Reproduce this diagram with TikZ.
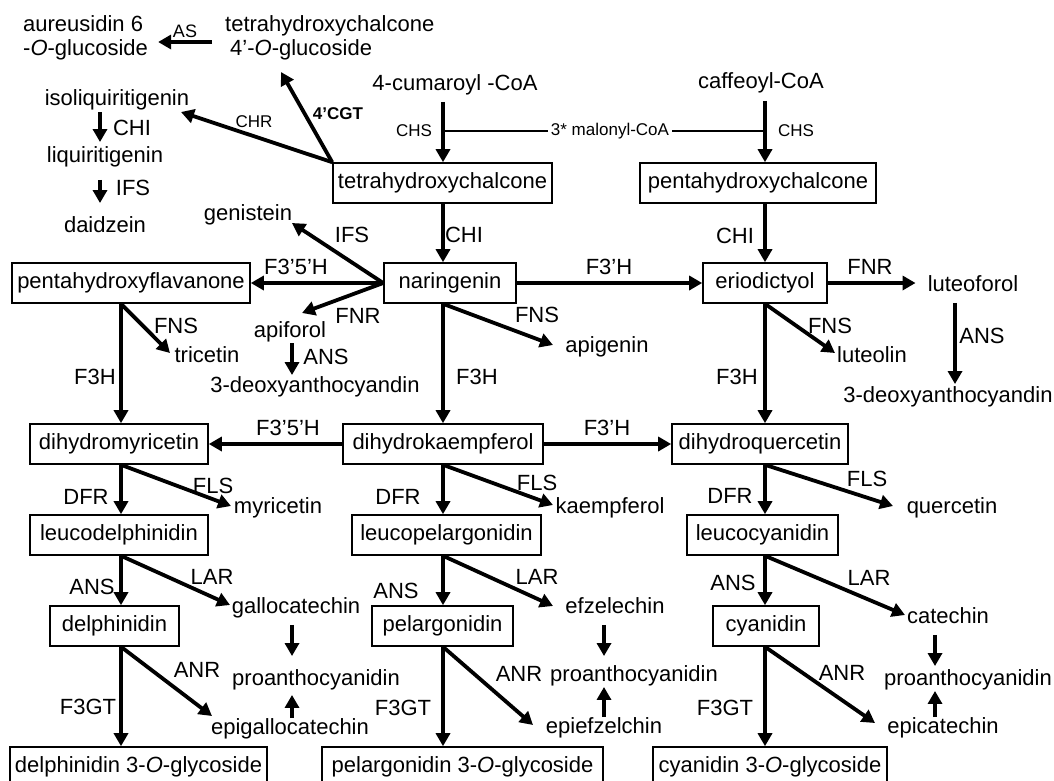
\documentclass[tikz,border=0pt]{standalone}
\usepackage{fontspec}
\setmainfont{Liberation Sans}
\usetikzlibrary{arrows.meta}
\newcommand\fbig{\fontsize{22}{24}\selectfont}
\newcommand\fsml{\fontsize{17}{20}\selectfont}
\tikzset{
  box/.style={draw, line width=1.6pt, minimum height=40pt, inner sep=0pt, font=\fbig},
  txt/.style={inner sep=0pt, font=\fbig, text height=15pt, text depth=4.5pt},
  enz/.style={inner sep=0pt, font=\fbig},
  sml/.style={inner sep=0pt, font=\fsml},
  arr/.style={line width=3.8pt, -{Triangle[length=13pt,width=14pt]}},
  malline/.style={line width=1.3pt},
}
\begin{document}
\begin{tikzpicture}[x=1pt,y=-1pt]
\useasboundingbox (0,0) rectangle (1054,780);
\clip (0,0) rectangle (1054,780);
% columns
\coordinate (cL) at (121,0);
\coordinate (cM) at (443,0);
\coordinate (cR) at (765,0);
\coordinate (cTL) at (100,0);
\coordinate (cA) at (292,0);
\coordinate (cLu) at (955,0);
\coordinate (cP1) at (292,0);
\coordinate (cP2) at (604,0);
\coordinate (cP3) at (935,0);
% boxes
\node[box, minimum width=219pt] (thc) at (442.5,183) {tetrahydroxychalcone};
\node[box, minimum width=236pt] (phc) at (758,183) {pentahydroxychalcone};
\node[box, minimum width=132pt] (nar) at (450,283) {naringenin};
\node[box, minimum width=238pt] (pfl) at (131,283) {pentahydroxyflavanone};
\node[box, minimum width=124pt] (eri) at (765,283) {eriodictyol};
\node[box, minimum width=178pt] (dmy) at (119,444) {dihydromyricetin};
\node[box, minimum width=200pt] (dhk) at (443,444) {dihydrokaempferol};
\node[box, minimum width=176pt] (dhq) at (760,444) {dihydroquercetin};
\node[box, minimum width=178pt] (lde) at (119,535) {leucodelphinidin};
\node[box, minimum width=189pt] (lpe) at (446.5,535) {leucopelargonidin};
\node[box, minimum width=151pt] (lcy) at (762.5,535) {leucocyanidin};
\node[box, minimum width=129pt] (del) at (114.5,626) {delphinidin};
\node[box, minimum width=141pt] (pel) at (442.5,626) {pelargonidin};
\node[box, minimum width=106pt] (cya) at (766,626) {cyanidin};
\node[box, minimum width=257pt] (d3g) at (138.5,767) {delphinidin 3-\textit{O}-glycoside};
\node[box, minimum width=281pt] (p3g) at (462.5,767) {pelargonidin 3-\textit{O}-glycoside};
\node[box, minimum width=234pt] (c3g) at (770,767) {cyanidin 3-\textit{O}-glycoside};
% compound texts
\node[enz, align=left, anchor=west] (aur) at (23,38) {aureusidin 6\\-\textit{O}-glucoside};
\node[enz, align=left, anchor=west] (tgl) at (225,38) {tetrahydroxychalcone\\\hspace*{5pt}4’-\textit{O}-glucoside};
\node[txt] (isl) at (117,100) {isoliquiritigenin};
\node[txt] (liq) at (105,157) {liquiritigenin};
\node[txt] (dai) at (105,227) {daidzein};
\node[txt] (gen) at (248,215) {genistein};
\node[txt] (cum) at (455,85) {4-cumaroyl -CoA};
\node[txt] (caf) at (761,83) {caffeoyl-CoA};
\node[sml, inner xsep=3pt] (mal) at (610,131) {3* malonyl-CoA};
\node[txt] (api) at (290,332) {apiforol};
\node[txt] (d3a) at (315,387) {3-deoxyanthocyandin};
\node[txt] (apg) at (607,347) {apigenin};
\node[txt] (tri) at (207,357) {tricetin};
\node[txt] (lut) at (973,286) {luteoforol};
\node[txt] (lue) at (872,357) {luteolin};
\node[txt] (d3b) at (948,397) {3-deoxyanthocyandin};
\node[txt] (myr) at (278,508) {myricetin};
\node[txt] (kae) at (610,508) {kaempferol};
\node[txt] (que) at (952,508) {quercetin};
\node[txt] (gal) at (296,608) {gallocatechin};
\node[txt] (efz) at (615,608) {efzelechin};
\node[txt] (cat) at (948,618) {catechin};
\node[txt] (pro1) at (316,680) {proanthocyanidin};
\node[txt] (pro2) at (634,676) {proanthocyanidin};
\node[txt] (pro3) at (968,680) {proanthocyanidin};
\node[txt] (epg) at (290,729) {epigallocatechin};
\node[txt] (epf) at (604,728) {epiefzelchin};
\node[txt] (epc) at (943,728) {epicatechin};
% enzyme labels
\node[sml, font=\fontsize{18}{20}\selectfont] (lAS) at (185,31) {AS};
\node[sml] (lCHR) at (254,122) {CHR};
\node[sml, font=\fsml\bfseries] (lCGT) at (338,114) {4’CGT};
\node[sml] (lCHS1) at (414,131) {CHS};
\node[sml] (lCHS2) at (796,131) {CHS};
\node[enz] (lCHI0) at (132,128) {CHI};
\node[enz] (lIFS0) at (133,188) {IFS};
\node[enz] (lCHI1) at (464,235) {CHI};
\node[enz] (lCHI2) at (735,236) {CHI};
\node[enz] (lIFS) at (352,235) {IFS};
\node[enz] (lF35a) at (296,267) {F3’5’H};
\node[enz] (lFNR1) at (358,316) {FNR};
\node[enz] (lF3a) at (609,267) {F3’H};
\node[enz] (lFNS1) at (537,315) {FNS};
\node[enz] (lFNS0) at (176,326) {FNS};
\node[enz] (lF3H0) at (95,377) {F3H};
\node[enz] (lANSa) at (326,357) {ANS};
\node[enz] (lF3H1) at (477,377) {F3H};
\node[enz] (lFNR2) at (870,267) {FNR};
\node[enz] (lANSb) at (982,336) {ANS};
\node[enz] (lFNS2) at (830,326) {FNS};
\node[enz] (lF3H2) at (737,377) {F3H};
\node[enz] (lF35b) at (288,428) {F3’5’H};
\node[enz] (lF3b) at (607,428) {F3’H};
\node[enz] (lDFR0) at (86,497) {DFR};
\node[enz] (lFLS0) at (213,486) {FLS};
\node[enz] (lDFR1) at (398,497) {DFR};
\node[enz] (lFLS1) at (537,483) {FLS};
\node[enz] (lDFR2) at (730,496) {DFR};
\node[enz] (lFLS2) at (867,479) {FLS};
\node[enz] (lANS0) at (92,587) {ANS};
\node[enz] (lLAR0) at (212,577) {LAR};
\node[enz] (lANR0) at (197,670) {ANR};
\node[enz] (lGT0) at (88,707) {F3GT};
\node[enz] (lANS1) at (396,591) {ANS};
\node[enz] (lLAR1) at (537,577) {LAR};
\node[enz] (lANR1) at (519,674) {ANR};
\node[enz] (lGT1) at (403,708) {F3GT};
\node[enz] (lANS2) at (733,583) {ANS};
\node[enz] (lLAR2) at (869,578) {LAR};
\node[enz] (lANR2) at (842,673) {ANR};
\node[enz] (lGT2) at (725,708) {F3GT};
% free arrow ends
\coordinate (isoE) at (181,112);
\coordinate (tglE) at (281,72);
\coordinate (genE) at (292,223);
\coordinate (apiE) at (302,313);
\coordinate (apgE) at (553,345);
\coordinate (triE) at (170,353);
\coordinate (lueE) at (835,353);
\coordinate (myrE) at (231,506);
\coordinate (kaeE) at (553,505);
\coordinate (queE) at (893,506);
\coordinate (galE) at (230,605);
\coordinate (efzE) at (553,606);
\coordinate (catE) at (905,615);
\coordinate (epgE) at (212,716);
\coordinate (epfE) at (533,725);
\coordinate (epcE) at (875,723);
% top
\draw[arr, shorten <=7pt] (cM |- cum.south) -- (cM |- thc.north);
\draw[arr, shorten <=8pt] (cR |- caf.south) -- (cR |- phc.north);
\draw[malline] (cM |- mal.west) -- (mal.west);
\draw[malline] (mal.east) -- (cR |- mal.east);
\draw[arr, shorten <=13pt, shorten >=10pt] ([yshift=-4pt]tgl.west) -- ([yshift=-4pt]aur.east);
\draw[arr] (thc.north west) -- (isoE);
\draw[arr] (thc.north west) -- (tglE);
\draw[arr, shorten <=2.5pt, shorten >=5pt] (cTL |- isl.south) -- (cTL |- liq.north);
\draw[arr, shorten <=13pt, shorten >=14pt] (cTL |- liq.south) -- (cTL |- dai.north);
\draw[arr] (thc.south -| cM) -- (cM |- nar.north);
\draw[arr] (cR |- phc.south) -- (cR |- eri.north);
% naringenin row
\draw[arr] (nar.west) -- (pfl.east);
\draw[arr] (nar.east) -- (eri.west);
\draw[arr] (nar.west) -- (genE);
\draw[arr] (nar.west) -- (apiE);
\draw[arr] (cM |- nar.south) -- (apgE);
\draw[arr, shorten <=1.5pt, shorten >=2pt] (cA |- api.south) -- (cA |- d3a.north);
\draw[arr] (cL |- pfl.south) -- (triE);
\draw[arr] (cR |- eri.south) -- (lueE);
\draw[arr, shorten >=12pt] (eri.east) -- (eri.east -| lut.west);
\draw[arr, shorten <=7pt, shorten >=3pt] (cLu |- lut.south) -- (cLu |- d3b.north);
\draw[arr] (cL |- pfl.south) -- (cL |- dmy.north);
\draw[arr] (cM |- nar.south) -- (cM |- dhk.north);
\draw[arr] (cR |- eri.south) -- (cR |- dhq.north);
% dihydro row
\draw[arr] (dhk.west) -- (dmy.east);
\draw[arr] (dhk.east) -- (dhq.west);
\draw[arr] (cL |- dmy.south) -- (myrE);
\draw[arr] (cM |- dhk.south) -- (kaeE);
\draw[arr] (cR |- dhq.south) -- (queE);
\draw[arr] (cL |- dmy.south) -- (cL |- lde.north);
\draw[arr] (cM |- dhk.south) -- (cM |- lpe.north);
\draw[arr] (cR |- dhq.south) -- (cR |- lcy.north);
% leuco row
\draw[arr] (cL |- lde.south) -- (galE);
\draw[arr] (cM |- lpe.south) -- (efzE);
\draw[arr] (cR |- lcy.south) -- (catE);
\draw[arr] (cL |- lde.south) -- (cL |- del.north);
\draw[arr] (cM |- lpe.south) -- (cM |- pel.north);
\draw[arr] (cR |- lcy.south) -- (cR |- cya.north);
% anthocyanidin row
\draw[arr] (cL |- del.south) -- (epgE);
\draw[arr] (cM |- pel.south) -- (epfE);
\draw[arr] (cR |- cya.south) -- (epcE);
\draw[arr] (cL |- del.south) -- (cL |- d3g.north);
\draw[arr] (cM |- pel.south) -- (cM |- p3g.north);
\draw[arr] (cR |- cya.south) -- (cR |- c3g.north);
% proanthocyanidins
\draw[arr, shorten <=7pt, shorten >=14pt] (cP1 |- gal.south) -- (cP1 |- pro1.north);
\draw[arr, shorten <=1pt, shorten >=5pt] (cP1 |- epg.north) -- (cP1 |- pro1.south);
\draw[arr, shorten <=7pt, shorten >=10pt] (cP2 |- efz.south) -- (cP2 |- pro2.north);
\draw[arr, shorten <=1pt, shorten >=1pt] (cP2 |- epf.north) -- (cP2 |- pro2.south);
\draw[arr, shorten <=7pt, shorten >=4pt] (cP3 |- cat.south) -- (cP3 |- pro3.north);
\draw[arr, shorten <=1pt, shorten >=1pt] (cP3 |- epc.north) -- (cP3 |- pro3.south);
\end{tikzpicture}
\end{document}
